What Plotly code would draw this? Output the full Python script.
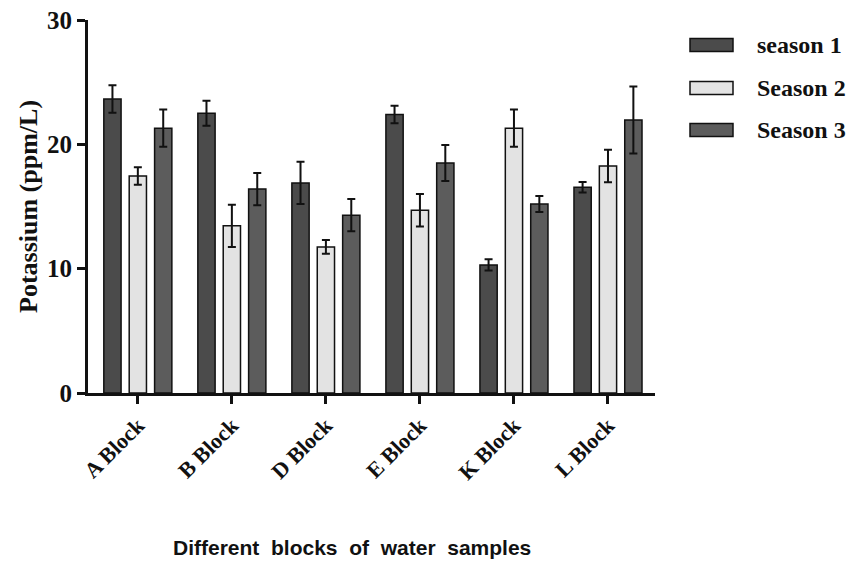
import plotly.graph_objects as go

categories = ["A Block", "B Block", "D Block", "E Block", "K Block", "L Block"]
series_names = ["season 1", "Season 2", "Season 3"]
season1 = [23.65, 22.5, 16.9, 22.4, 10.3, 16.55]
season1_err = [1.1, 1.0, 1.7, 0.7, 0.45, 0.42]
season2 = [17.45, 13.45, 11.75, 14.7, 21.3, 18.26]
season2_err = [0.7, 1.7, 0.55, 1.3, 1.5, 1.3]
season3 = [21.3, 16.4, 14.3, 18.5, 15.2, 21.96]
season3_err = [1.5, 1.3, 1.3, 1.45, 0.65, 2.7]
colors = ["#4b4b4b", "#e3e3e3", "#5c5c5c"]

fig = go.Figure()
for name, vals, errs, col in zip(series_names, [season1, season2, season3],
                                  [season1_err, season2_err, season3_err], colors):
    fig.add_trace(go.Bar(
        x=categories, y=vals, name=name,
        marker=dict(color=col, line=dict(color="#111111", width=1.5)),
        error_y=dict(type="data", array=errs, visible=True, color="#111111",
                     thickness=2, width=4),
        showlegend=False,
    ))

OFF = 8  # page body margin
L, R, T, B = 88, 655, 20, 393  # target plot-area pixels in the screenshot
W, H = 863 - OFF, 584 - OFF

def px(x):
    return (x - L) / (R - L)

def py(y):
    return (B - y) / (B - T)

rows = [45, 88, 130]
for name, col, yc in zip(series_names, colors, rows):
    fig.add_shape(type="rect", xref="paper", yref="paper",
                  x0=px(690), x1=px(733), y0=py(yc + 6.5), y1=py(yc - 6.5),
                  fillcolor=col, line=dict(color="#111111", width=1.5))
    fig.add_annotation(x=px(755), y=py(yc), xref="paper", yref="paper",
                       text="<b>%s</b>" % name, showarrow=False,
                       xanchor="left", yanchor="middle",
                       font=dict(family="Liberation Serif", size=24, color="#111111"))

fig.add_annotation(x=px(352), y=py(547), xref="paper", yref="paper",
                   text="<b>Different  blocks  of  water  samples</b>", showarrow=False,
                   xanchor="center", yanchor="middle",
                   font=dict(family="Liberation Sans", size=21, color="#111111"))

fig.add_annotation(x=px(28), y=py(207), xref="paper", yref="paper",
                   text="<b>Potassium (ppm/L)</b>", showarrow=False, textangle=-90,
                   xanchor="center", yanchor="middle",
                   font=dict(family="Liberation Serif", size=26, color="#111111"))

fig.update_layout(
    width=W, height=H,
    margin=dict(l=L - OFF, r=863 - R, t=T - OFF, b=584 - B),
    paper_bgcolor="white", plot_bgcolor="white",
    barmode="group", bargap=0.19, bargroupgap=0.32,
    font=dict(family="Liberation Serif", color="#111111"),
    xaxis=dict(
        range=[-0.53, 5.5], showline=True, linecolor="#111111", linewidth=3,
        ticks="outside", ticklen=8, tickwidth=3, tickcolor="#111111",
        tickangle=-45, tickfont=dict(family="Liberation Serif", size=22, color="#111111"),
        showgrid=False, zeroline=False, automargin=False,
        tickvals=categories, ticktext=["<b>%s</b>" % c for c in categories],
    ),
    yaxis=dict(
        range=[0, 30], showline=True, linecolor="#111111", linewidth=3,
        ticks="outside", ticklen=8, tickwidth=3, tickcolor="#111111",
        tickvals=[0, 10, 20, 30], ticktext=["<b>0</b>", "<b>10</b>", "<b>20</b>", "<b>30</b>"],
        tickfont=dict(family="Liberation Serif", size=25, color="#111111"),
        showgrid=False, zeroline=False, automargin=False, ticklabeloverflow="allow",
    ),
)

fig.write_html("out.html")
